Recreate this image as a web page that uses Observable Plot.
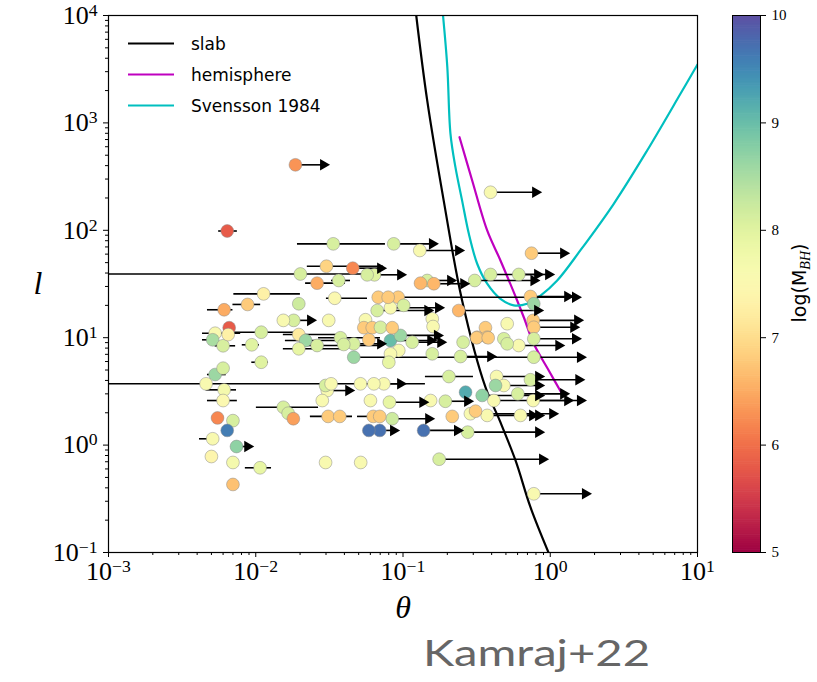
<!DOCTYPE html>
<html><head><meta charset="utf-8">
<script src="https://cdn.jsdelivr.net/npm/d3@7"></script>
<script src="https://cdn.jsdelivr.net/npm/@observablehq/plot@0.6"></script>
<style>
body{margin:0;background:#fff;}
#wrap{position:relative;width:817px;height:682px;overflow:hidden;background:#fff;}
#main{position:absolute;left:0;top:0;}
#cbar{position:absolute;left:700px;top:0;}
#legend{position:absolute;left:0;top:0;}
#cblabel{position:absolute;left:801px;top:283px;transform:translate(-50%,-50%) rotate(-90deg);font-family:"DejaVu Sans";font-size:19px;white-space:nowrap;color:#000;}
#cblabel sub{font-family:"Liberation Serif";font-style:italic;font-size:14px;}
#caption{position:absolute;left:423px;top:633px;font-family:Lato;font-size:37px;line-height:38px;color:#666;white-space:nowrap;transform-origin:0 50%;}
</style></head><body>
<div id="wrap">
<div id="main"></div>
<div id="cbar"></div>
<svg id="legend" width="320" height="130"></svg>
<div id="cblabel">log(M<sub>BH</sub>)</div>
<div id="caption">Kamraj+22</div>
</div>
<script>
// ---- data: points with two-sided theta error bars
const errTheta = [0.0064,0.0336,0.0302,0.0201,0.0261,0.0366,0.0113,0.0344,0.0088,0.0061, 0.0053,0.0109,0.0051,0.006,0.0094,0.0196,0.0218,0.0196,0.0261,0.0376, 0.0109,0.0053,0.0046,0.0061,0.006,0.0055,0.0051,0.0107,0.0154,0.031, 0.0628,0.205];
const errL = [98.5,74.8,46.3,39.2,32.2,34.1,25.6,23.3,20.4,18.2, 11.0,11.25,9.56,8.41,8.59,10.7,9.42,7.88,8.46,9.98, 5.91,4.54,3.72,3.27,2.60,1.79,1.145,0.615,2.25,1.85, 1.85,4.35];
const errM = [5.8,8.1,6.9,8.1,6.5,8.1,7.3,7.5,6.8,6.5, 7.6,8.1,8.5,8.1,8.0,7.2,8.6,7.9,8.1,8.1, 8.0,8.6,7.6,7.7,7.5,6.2,7.6,7.9,8.1,6.8, 6.8,8.1];
const errLo = [0.0056,0.0192,0.0224,0.001,0.0218,0.0327,0.0071,0.0302,0.007,0.0047, 0.00435,0.007,0.00435,0.0053,0.0081,0.0154,0.0159,0.0154,0.0201,0.0267, 0.0094,0.0047,0.001,0.0046,0.0047,0.0051,0.00415,0.0085,0.0101,0.0235, 0.0491,0.142];
const errHi = [0.0075,0.076,0.0738,0.057,0.0407,0.044,0.0201,0.0574,0.0108,0.007, 0.0079,0.0192,0.0055,0.0073,0.0106,0.0376,0.044,0.0407,0.0703,0.0703, 0.0122,0.0063,0.142,0.0074,0.0075,0.0058,0.0056,0.0128,0.0267,0.0454, 0.0703,0.301];

// ---- data: lower limits in theta (arrows)
const limTheta = [0.0186,0.0865,0.130,0.393,0.746,0.0456,0.064,0.307,0.393,0.611, 0.146,0.162,0.0927,0.734,0.0668,0.0822,0.239,0.0181,0.766,0.773, 0.0463,0.0822,0.0961,0.1155,0.0463,0.246,0.611,0.773,0.0074,0.176, 0.773,0.0695,0.138,0.275,0.0845,0.287,0.373,0.628,0.0306,0.0741, 0.0809,0.194,0.414,0.766,0.432,0.734,0.345,0.484,0.602];
const limL = [407,74.8,64.9,226,61.2,44.4,38.5,34.1,38.8,38.8, 34.1,31.8,23.8,24.2,17.9,19.0,17.9,14.5,14.5,12.5, 8.77,9.42,10.5,9.08,6.58,6.68,8.46,9.77,0.970,0.739, 0.352,1.37,1.37,1.32,1.76,1.96,1.89,1.89,3.22,3.72, 2.51,2.56,2.60,2.60,4.35,4.06,2.90,3.59,3.00];
const limM = [6.3,8.1,7.6,7.6,6.8,6.2,8.0,8.1,8.1,8.1, 8.1,6.6,6.8,6.8,8.1,7.6,6.6,8.1,6.8,6.8, 8.1,9.0,8.6,8.1,8.6,8.1,7.6,8.1,8.7,8.1, 7.6,9.7,9.7,8.1,8.2,7.6,7.6,7.6,7.6,7.6, 7.9,8.1,7.6,7.6,7.6,8.1,8.7,7.6,8.1];
const limTo = [0.0288,0.158,0.238,0.794,1.23,0.0703,0.0961,0.773,0.819,0.973, 0.21,0.258,1.48,1.31,0.147,0.174,0.819,0.0235,1.53,1.44, 0.0703,0.154,0.171,0.18,1.60,0.393,1.14,1.48,0.0088,0.885, 1.73,0.0861,0.234,0.832,0.149,1.036,0.832,0.757,0.0427,0.0961, 0.136,0.274,1.31,1.60,0.832,1.56,0.832,0.832,1.23];

// ---- data: plain points
const dotTheta = [0.0571,0.1315,0.0679,0.0793,0.773,0.0196,0.101,0.0154,0.0313,0.0556, 0.0542,0.0618,0.0703,0.0845,0.158,0.160,0.363,0.319,0.373,0.510, 0.0066,0.0065,0.0396,0.0586,0.0936,0.0822,0.0801,0.158,0.773,0.256, 0.316,0.379,0.484,0.510,0.006,0.007,0.0064,0.005,0.007,0.007, 0.0298,0.0516,0.0586,0.0166,0.018,0.0372,0.0695,0.216,0.311,0.0298, 0.0325,0.0283,0.0514,0.0634,0.0601,0.154,0.266,0.425];
const dotL = [38.5,32.2,23.8,23.8,20.7,20.7,20.0,14.5,14.5,14.7, 12.4,12.4,12.5,12.4,15.0,12.7,12.4,10.1,10.1,13.5, 12.4,10.7,8.65,9.56,7.60,7.08,5.91,7.08,6.58,9.08, 9.98,9.98,9.77,8.77,5.20,1.69,1.37,0.783,0.689,0.430, 0.689,0.689,1.37,1.98,1.76,1.85,1.85,1.85,2.07,3.59, 3.72,2.60,3.72,3.72,2.60,2.60,3.11,3.59];
const dotM = [8.1,6.6,6.8,6.8,8.6,8.2,8.1,7.6,7.6,7.6, 6.8,6.8,8.1,6.8,7.6,7.6,6.8,6.8,6.8,7.6, 5.8,7.3,8.1,6.8,7.6,7.6,7.9,8.1,8.1,8.1, 6.8,6.8,8.1,8.1,8.1,8.1,9.6,7.4,7.7,6.7, 7.6,7.6,9.7,8.1,6.4,6.8,6.8,6.8,6.8,8.1, 7.6,7.6,7.6,7.6,7.6,7.6,9.2,8.6];

// ---- model curves
const slabTheta = [0.123,0.146,0.189,0.252,0.363,0.454,0.581,0.734,0.973];
const slabL = [10000,1618,189,22.2,3.46,1.69,0.719,0.264,0.1];
const hemiTheta = [0.242,0.295,0.373,0.459,0.596,0.661,0.773,0.977,1.21];
const hemiL = [736,291,99.6,52.4,22.2,15.5,8.77,4.95,2.96];
const svTheta = [0.187,0.200,0.210,0.227,0.252,0.280,0.319,0.373,0.459,0.565,0.697,0.859,1.115,1.60,2.70,4.55,7.66,10];
const svL = [10000,3300,796,387,189,92.7,48.8,31.8,23.0,20.0,20.7,24.7,34.1,64.9,176.6,553,1866,3500];

const seriesNames = ["slab","hemisphere","Svensson 1984"];
const seriesColors = ["#000000","#bf00bf","#00bfbf"];

// ---- ticks
const xMajor = [0.001,0.01,0.1,1,10];
const xMajorLabels = ["10^−3","10^−2","10^−1","10^0","10^1"];
const yMajor = [0.1,1,10,100,1000,10000];
const yMajorLabels = ["10^−1","10^0","10^1","10^2","10^3","10^4"];
const cbTicks = [5,6,7,8,9,10];
const cbTickLabels = ["5","6","7","8","9","10"];
const xMinor = [0.001,0.01,0.1,1].flatMap(b => [2,3,4,5,6,7,8,9].map(k => k*b));
const yMinor = [0.1,1,10,100,1000].flatMap(b => [2,3,4,5,6,7,8,9].map(k => k*b));

const errRows = errTheta.map((t,i)=>({t, l:errL[i], m:errM[i], lo:errLo[i], hi:errHi[i]}));
const limRows = limTheta.map((t,i)=>({t, l:limL[i], m:limM[i], to:limTo[i]}));
const dotRows = dotTheta.map((t,i)=>({t, l:dotL[i], m:dotM[i]}));
const allDots = [...errRows, ...limRows, ...dotRows];
const curve = (xs, ys) => xs.map((t,i)=>({t, l:ys[i]}));

const colorScale = {type:"linear", domain:[5,10], interpolate:d3.interpolateSpectral};
const serif = "Liberation Serif";

const main = Plot.plot({
  width:817, height:625, marginLeft:108, marginRight:120, marginTop:15, marginBottom:73,
  x:{type:"log", domain:[1e-3,10], label:null},
  y:{type:"log", domain:[0.1,1e4], label:null},
  color:colorScale,
  style:{fontFamily:serif, background:"white", color:"black"},
  marks:[
    Plot.axisX(xMinor, {anchor:"bottom", tickSize:3, tickFormat:()=>"", label:null}),
    Plot.axisY(yMinor, {anchor:"left", tickSize:3, tickFormat:()=>"", label:null}),
    Plot.axisX(xMajor, {anchor:"bottom", tickSize:5, tickPadding:4, fontSize:26, fontFamily:serif,
      tickFormat:(d)=>xMajorLabels[xMajor.indexOf(d)], label:null}),
    Plot.axisY(yMajor, {anchor:"left", tickSize:5, tickPadding:6, fontSize:26, fontFamily:serif,
      tickFormat:(d)=>yMajorLabels[yMajor.indexOf(d)], label:null}),
    Plot.line(curve(slabTheta, slabL), {x:"t", y:"l", stroke:seriesColors[0], strokeWidth:2.2, curve:"catmull-rom", clip:true}),
    Plot.line(curve(hemiTheta, hemiL), {x:"t", y:"l", stroke:seriesColors[1], strokeWidth:2.2, curve:"catmull-rom", clip:true}),
    Plot.line(curve(svTheta, svL), {x:"t", y:"l", stroke:seriesColors[2], strokeWidth:2.2, curve:"catmull-rom", clip:true}),
    Plot.ruleY(errRows, {y:"l", x1:"lo", x2:"hi", stroke:"black", strokeWidth:1.6}),
    Plot.ruleY(limRows, {y:"l", x1:"t", x2:"to", stroke:"black", strokeWidth:1.6}),
    Plot.dot(allDots, {x:"t", y:"l", r:6.4, fill:"m", stroke:"#8a8a8a", strokeWidth:0.5}),
    Plot.dot(limRows, {x:"to", y:"l", symbol:"triangle", r:4.3, rotate:90, fill:"black", stroke:"none"}),
    Plot.frame({stroke:"black", strokeWidth:1.2}),
    Plot.text(["θ"], {text:d=>d, frameAnchor:"bottom", lineAnchor:"middle", dy:55, fontSize:32, fontStyle:"italic", fontFamily:serif}),
    Plot.text(["l"], {text:d=>d, frameAnchor:"left", lineAnchor:"middle", dx:-75, fontSize:32, fontStyle:"italic", fontFamily:serif})
  ]
});
document.getElementById("main").appendChild(main);

// superscripts for exponent tick labels
d3.select(main).selectAll("text").each(function(){
  const m = /^10\^(.+)$/.exec(this.textContent);
  if (m) {
    const el = d3.select(this);
    el.text("10");
    el.append("tspan").attr("dy","-0.45em").attr("font-size","0.68em").text(m[1]);
  }
});

// colorbar
const cbLevels = d3.range(5, 10, 0.02);
const cbar = Plot.plot({
  width:117, height:567, marginLeft:32, marginRight:57, marginTop:15, marginBottom:15,
  x:{domain:[0,1], axis:null},
  y:{domain:[5,10], label:null},
  color:colorScale,
  style:{fontFamily:serif, background:"transparent", color:"black"},
  marks:[
    Plot.rect(cbLevels, {x1:0, x2:1, y1:d=>d, y2:d=>Math.min(10, d+0.026), fill:d=>d+0.01, inset:0}),
    Plot.frame({stroke:"black", strokeWidth:1}),
    Plot.axisY(cbTicks, {anchor:"right", tickSize:5, tickPadding:6, fontSize:15, fontFamily:serif, label:null,
      tickFormat:(d)=>cbTickLabels[cbTicks.indexOf(d)]})
  ]
});
document.getElementById("cbar").appendChild(cbar);

// legend
const lg = d3.select("#legend");
seriesNames.forEach((name, i) => {
  const y = 43.5 + i*31;
  lg.append("line").attr("x1",128).attr("x2",174).attr("y1",y).attr("y2",y)
    .attr("stroke", seriesColors[i]).attr("stroke-width",2.2);
  lg.append("text").attr("x",191).attr("y",y+6).attr("font-family","DejaVu Sans")
    .attr("font-size",17).attr("fill","#000").text(name);
});

// caption: stretch to the reference's width
const cap = document.getElementById("caption");
const capW = cap.getBoundingClientRect().width;
if (capW > 0) cap.style.transform = "scaleX(" + (227 / capW) + ")";
</script>
</body></html>
